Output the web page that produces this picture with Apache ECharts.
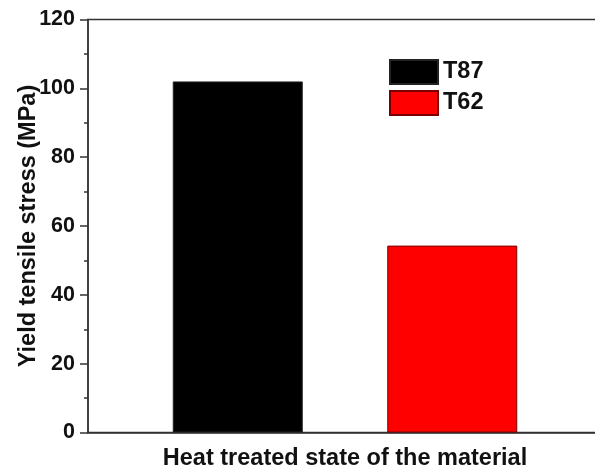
<!DOCTYPE html>
<html>
<head>
<meta charset="utf-8">
<script src="https://cdn.jsdelivr.net/npm/echarts@6/dist/echarts.min.js"></script>
<style>html,body{margin:0;padding:0;background:#fff}#c{width:595px;height:471px}</style>
</head>
<body>
<div id="c"></div>
<script>
const categories = ['Heat treated'];
const seriesNames = ['T87', 'T62'];
const t87Values = [102];
const t62Values = [54.3];
const yTicks = [0, 20, 40, 60, 80, 100, 120];

const chart = echarts.init(document.getElementById('c'), null, {renderer: 'canvas'});
const font = '"Liberation Sans", Arial, sans-serif';
chart.setOption({
  animation: false,
  backgroundColor: '#fff',
  grid: {left: 88, top: 19.5, height: 413, width: 514, outerBoundsMode: 'none', containLabel: false,
         show: true, borderColor: '#333', borderWidth: 1.5, backgroundColor: 'transparent'},
  legend: {
    orient: 'vertical', left: 384, top: 54, itemWidth: 48, itemHeight: 24, itemGap: 5,
    icon: 'rect',
    data: seriesNames,
    textStyle: {fontFamily: font, fontWeight: 'bold', fontSize: 23.5, color: '#111'}
  },
  xAxis: {
    type: 'category', data: categories,
    name: 'Heat treated state of the material', nameLocation: 'middle', nameGap: 14, nameMoveOverlap: false,
    nameTextStyle: {fontFamily: font, fontWeight: 'bold', fontSize: 23.5, color: '#111'},
    axisLine: {lineStyle: {color: '#333', width: 1.5}},
    axisTick: {show: false}, axisLabel: {show: false}
  },
  yAxis: {
    type: 'value', min: yTicks[0], max: yTicks[yTicks.length - 1], interval: 20,
    name: 'Yield tensile stress (MPa)', nameLocation: 'middle', nameGap: 47, nameMoveOverlap: false,
    nameTextStyle: {fontFamily: font, fontWeight: 'bold', fontSize: 23.5, color: '#111'},
    axisLine: {show: true, lineStyle: {color: '#333', width: 1.5}},
    axisTick: {show: true, inside: false, length: 8, lineStyle: {color: '#333', width: 1.5}},
    minorTick: {show: true, splitNumber: 2, length: 4, lineStyle: {color: '#333', width: 1.5}},
    splitLine: {show: false},
    axisLabel: {margin: 13, fontFamily: font, fontWeight: 'bold', fontSize: 21.5, color: '#111'}
  },
  series: [
    {name: seriesNames[0], type: 'bar', data: t87Values, barWidth: 130, barGap: '65%',
     itemStyle: {color: '#000', borderColor: '#222', borderWidth: 1}},
    {name: seriesNames[1], type: 'bar', data: t62Values, barWidth: 130,
     itemStyle: {color: '#ff0000', borderColor: '#7a0000', borderWidth: 1}}
  ]
});
</script>
</body>
</html>
